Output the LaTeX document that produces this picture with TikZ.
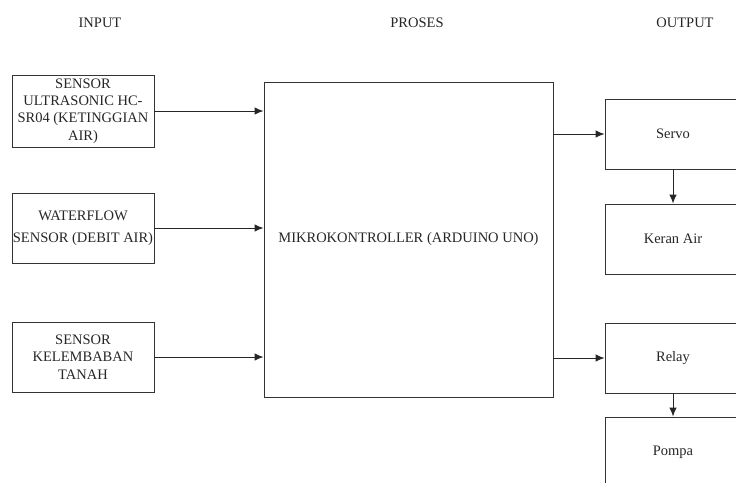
\documentclass[tikz,border=0pt]{standalone}
\usepackage{fontspec}
\setmainfont{Liberation Serif}
\usetikzlibrary{arrows.meta}
\begin{document}
\begin{tikzpicture}[x=1pt,y=-1pt,
  box/.style={draw=black!80, line width=0.9pt, align=center, inner sep=0pt,
    font=\fontsize{14.5}{17.3}\selectfont, text=black!85},
  lbl/.style={font=\fontsize{14.5}{17}\selectfont, text=black!85},
  conn/.style={draw=black!85, line width=1pt, -{Latex[length=9pt,width=7.5pt]}}]
\useasboundingbox (0,0) rectangle (736,482);
\node[lbl] (hin) at (100,23) {INPUT};
\node[lbl] (hpr) at (417,23) {PROSES};
\node[lbl] (hout) at (685,23) {OUTPUT};
\node[box, minimum width=142pt, minimum height=72pt] (s1) at (83,111) {SENSOR\\ULTRASONIC HC-\\SR04 (KETINGGIAN\\AIR)};
\node[box, minimum width=142pt, minimum height=70pt] (s2) at (83,228) {WATERFLOW\\[5pt]SENSOR (DEBIT AIR)};
\node[box, minimum width=142pt, minimum height=70pt] (s3) at (83,357) {SENSOR\\KELEMBABAN\\TANAH};
\node[box, minimum width=289pt, minimum height=315pt] (mc) at (408.5,239.5) {MIKROKONTROLLER (ARDUINO UNO)};
\node[box, minimum width=136pt, minimum height=70pt] (sv) at (673,134) {Servo};
\node[box, minimum width=136pt, minimum height=70pt] (kr) at (673,239) {Keran Air};
\node[box, minimum width=136pt, minimum height=70pt] (rl) at (673,358) {Relay};
\node[box, minimum width=136pt, minimum height=70pt] (pm) at (673,452) {Pompa};
\draw[conn] (s1.east) -- (mc.west |- s1.east);
\draw[conn] (s2.east) -- (mc.west |- s2.east);
\draw[conn] (s3.east) -- (mc.west |- s3.east);
\draw[conn] (mc.east |- sv.west) -- (sv.west);
\draw[conn] (mc.east |- rl.west) -- (rl.west);
\draw[conn] (sv.south) -- (kr.north);
\draw[conn] (rl.south) -- (pm.north);
\end{tikzpicture}
\end{document}
